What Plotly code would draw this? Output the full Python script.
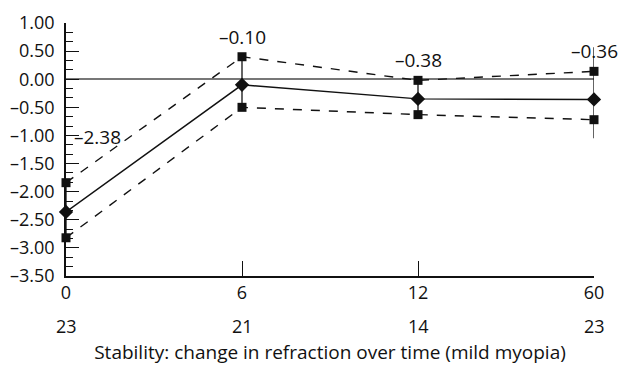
import plotly.graph_objects as go

months = ["0", "6", "12", "60"]
n_eyes = ["23", "21", "14", "23"]
mean_vals = [-2.36, -0.10, -0.35, -0.36]
upper_vals = [-1.84, 0.40, -0.02, 0.14]
lower_vals = [-2.82, -0.50, -0.63, -0.72]
err_top = [-1.84, 0.40, -0.02, 0.57]
err_bot = [-2.82, -0.50, -0.63, -1.05]
mean_labels = ["–2.38", "–0.10", "–0.38", "–0.36"]
y_tickvals = [1.0, 0.5, 0.0, -0.5, -1.0, -1.5, -2.0, -2.5, -3.0, -3.5]
y_ticktext = ["1.00", "0.50", "0.00", "–0.50", "–1.00", "–1.50", "–2.00", "–2.50", "–3.00", "–3.50"]
x_title = "Stability: change in refraction over time (mild myopia)"

FONT = "Open Sans"
FS = 18
ink = "#111111"
xpos = list(range(len(months)))

fig = go.Figure()
for vals in (upper_vals, lower_vals):
    fig.add_trace(go.Scatter(
        x=xpos, y=vals, mode="lines+markers", cliponaxis=False,
        line=dict(color=ink, width=1.4, dash="dash"),
        marker=dict(symbol="square", size=9, color=ink),
        showlegend=False, hoverinfo="skip"))

fig.add_trace(go.Scatter(
    x=xpos, y=mean_vals, mode="lines+markers", cliponaxis=False,
    line=dict(color=ink, width=1.4),
    marker=dict(symbol="diamond", size=11, color=ink),
    error_y=dict(type="data", symmetric=False,
                 array=[t - m for t, m in zip(err_top, mean_vals)],
                 arrayminus=[m - b for b, m in zip(err_bot, mean_vals)],
                 color=ink, thickness=1.3, width=0),
    showlegend=False, hoverinfo="skip"))

shifts = [(31, 46), (0, 20), (0, 20), (0, 20)]
for xi, u, lab, (dx, dy) in zip(xpos, upper_vals, mean_labels, shifts):
    fig.add_annotation(x=xi, y=u, text=lab, showarrow=False, xshift=dx, yshift=dy,
                       font=dict(family=FONT, size=19, color=ink))

for xi, n in zip(xpos, n_eyes):
    fig.add_annotation(x=xi, y=-0.196, xref="x", yref="paper", text=n, showarrow=False,
                       yanchor="middle", font=dict(family=FONT, size=FS, color=ink))

fig.update_layout(
    width=621, height=365,
    margin=dict(l=66, r=27, t=23, b=89),
    paper_bgcolor="white", plot_bgcolor="white",
    font=dict(family=FONT, size=FS, color=ink),
    xaxis=dict(range=[0, 3], tickvals=xpos, ticktext=months, showgrid=False, zeroline=False,
               showline=True, linecolor=ink, linewidth=1.5, automargin=False,
               ticks="inside", ticklen=15, tickcolor=ink, tickwidth=1.2,
               title=dict(text=x_title, standoff=46, font=dict(family=FONT, size=19))),
    yaxis=dict(range=[-3.5, 1.0], tickvals=y_tickvals, ticktext=y_ticktext,
               showgrid=False, zeroline=True, zerolinecolor="#777777", zerolinewidth=1.5,
               showline=True, linecolor=ink, linewidth=1.5, automargin=False,
               ticks="inside", ticklen=13, tickcolor=ink, tickwidth=1.2,
               ticklabelstandoff=6,
               minor=dict(dtick=0.5 / 3, ticks="inside", ticklen=7, tickcolor=ink, tickwidth=1.2)),
)

fig.write_html("out.html")
